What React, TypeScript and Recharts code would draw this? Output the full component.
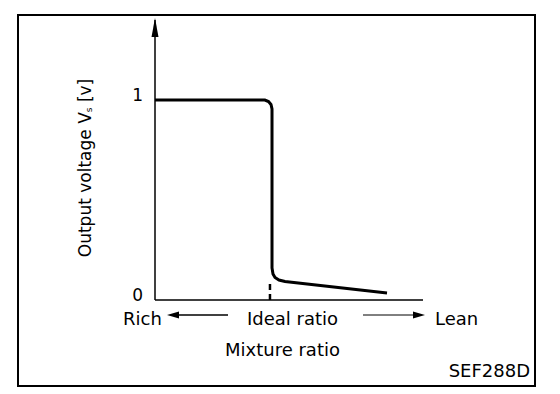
import React from "react";
import { LineChart, Line, XAxis, YAxis, ReferenceLine, ReferenceDot } from "recharts";

const mixtureX = [0, 41.0, 42.35, 43.28, 43.66, 43.66, 44.03, 44.78, 46.27, 48.5, 86.57];
const outputV = [1, 1, 0.9925, 0.9775, 0.955, 0.16, 0.13, 0.1125, 0.1, 0.0925, 0.035];
const yTicks = [0, 1];
const idealX = 42.9;
const idealTopV = 0.095;
const axisTopV = 1.4;

const data = mixtureX.map((x, i) => ({ x, v: outputV[i] }));

const FONT = "DejaVu Sans";

const YTick = (props: any) => {
  const { x, y, payload } = props;
  return (
    <text x={x} y={y - 5} dy="0.355em" textAnchor="end" fontFamily={FONT} fontSize={17} fill="#000">
      {payload && payload.value}
    </text>
  );
};

const YLabel = (props: any) => {
  const cx = 85;
  const cy = 168;
  return (
    <text
      x={cx}
      y={cy}
      transform={`rotate(-90 ${cx} ${cy})`}
      textAnchor="middle"
      dominantBaseline="central"
      fontFamily={FONT}
      fontSize={17}
      fill="#000"
    >
      <tspan>Output voltage V</tspan>
      <tspan fontSize={9} dy={4}>s</tspan>
      <tspan dy={-4}> [v]</tspan>
    </text>
  );
};

const XLabel = (props: any) => {
  return (
    <g fontFamily={FONT} fill="#000">
      <text x={123} y={325} fontSize={18}>Rich</text>
      <line x1={172} y1={315} x2={228} y2={315} stroke="#000" strokeWidth={1.5} />
      <polygon points="167,315 179,311.5 179,318.5" fill="#000" />
      <text x={247} y={325} fontSize={18}>Ideal ratio</text>
      <line x1={363} y1={315} x2={418} y2={315} stroke="#000" strokeWidth={1} />
      <polygon points="425,315 413,311.5 413,318.5" fill="#000" />
      <text x={435} y={325} fontSize={18}>Lean</text>
      <text x={225} y={356} fontSize={18}>Mixture ratio</text>
      <text x={530} y={377} fontSize={18} textAnchor="end">SEF288D</text>
    </g>
  );
};

const ArrowHead = (props: any) => {
  const { cx, cy } = props;
  if (cx == null || cy == null) return null;
  return <polygon points={`${cx},${cy - 2} ${cx - 3.5},${cy + 17} ${cx + 3.5},${cy + 17}`} fill="#000" />;
};

export default function App() {
  return (
    <div style={{ position: "relative", margin: "-8px 0 0 -8px", width: 560, height: 394, background: "#fff" }}>
      <div
        style={{
          position: "absolute",
          left: 17,
          top: 14,
          width: 515,
          height: 369,
          border: "2px solid #000",
        }}
      />
      <div style={{ position: "absolute", left: 0, top: 0 }}>
        <LineChart width={560} height={394} data={data} margin={{ top: 20, right: 137, bottom: 0, left: 0 }}>
          <XAxis
            dataKey="x"
            type="number"
            domain={[0, 100]}
            tick={false}
            tickLine={false}
            axisLine={{ stroke: "#000", strokeWidth: 1.5 }}
            height={94}
            label={<XLabel />}
          />
          <YAxis
            type="number"
            domain={[0, axisTopV]}
            ticks={yTicks}
            tick={<YTick />}
            tickLine={false}
            tickSize={0}
            tickMargin={12}
            axisLine={{ stroke: "#000", strokeWidth: 1.5 }}
            width={155}
            label={<YLabel />}
          />
          <ReferenceLine
            segment={[
              { x: idealX, y: 0 },
              { x: idealX, y: idealTopV },
            ]}
            stroke="#000"
            strokeWidth={2.5}
            strokeDasharray="6 4"
          />
          <ReferenceDot x={0} y={axisTopV} r={3} shape={<ArrowHead />} />
          <Line
            type="linear"
            dataKey="v"
            stroke="#000"
            strokeWidth={3}
            dot={false}
            isAnimationActive={false}
          />
        </LineChart>
      </div>
    </div>
  );
}
